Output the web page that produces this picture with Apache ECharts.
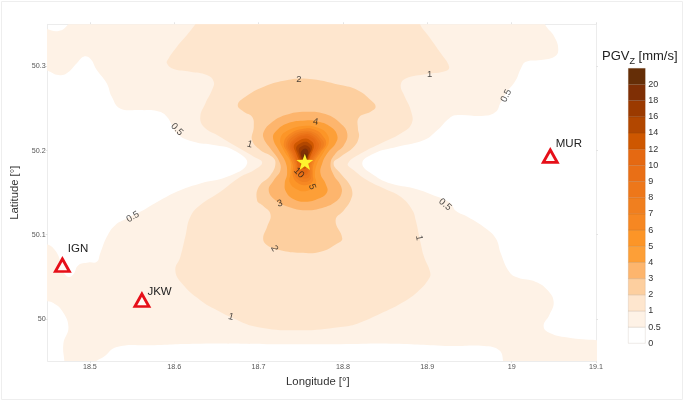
<!DOCTYPE html>
<html>
<head>
<meta charset="utf-8">
<style>html,body{margin:0;padding:0;background:#fff}#main{width:685px;height:402px}</style>
<script src="https://cdn.jsdelivr.net/npm/echarts@6/dist/echarts.min.js"></script>
</head>
<body>
<div id="main"></div>
<script>
// contour outlines [lon, lat] (parts outside the frame get clipped)
var contour05 = [[18.445,50.3452],[18.463,50.342],[18.4745,50.35],[18.4785,50.359],[19.0395,50.359],[19.0395,50.35],[19.0506,50.3353],[19.0553,50.3194],[19.0506,50.3115],[19.0347,50.3075],[19.0169,50.3056],[19.011,50.2976],[19.005,50.2838],[18.9932,50.2679],[18.9864,50.256],[18.9813,50.2461],[18.9674,50.2413],[18.9358,50.2421],[18.9259,50.2382],[18.912,50.2243],[18.8962,50.2124],[18.8645,50.2045],[18.8368,50.1966],[18.8229,50.1847],[18.8368,50.1708],[18.8566,50.1609],[18.8843,50.1549],[18.912,50.145],[18.9278,50.1371],[18.9338,50.1284],[18.9476,50.1213],[18.9694,50.1074],[18.9813,50.0955],[18.9872,50.0777],[18.9971,50.0559],[19.007,50.0491],[19.0288,50.044],[19.0427,50.0341],[19.0498,50.0202],[19.0446,50.0043],[19.0379,49.9924],[19.0427,49.9845],[19.0664,49.9778],[19.102,49.9746],[19.1139,49.9742],[19.1139,49.935],[18.99,49.935],[18.99,49.9488],[18.9853,49.9627],[18.9674,49.9679],[18.9278,49.9679],[18.8566,49.9706],[18.7972,49.9699],[18.7101,49.9699],[18.6309,49.9706],[18.5716,49.9687],[18.532,49.9667],[18.5161,49.9548],[18.5062,49.9488],[18.5003,49.9389],[18.4706,49.9389],[18.4698,49.9488],[18.4686,49.9706],[18.4746,49.9905],[18.4666,50.0103],[18.4567,50.019],[18.45,50.021],[18.4409,50.0222],[18.4409,50.0884],[18.45,50.0884],[18.4587,50.0816],[18.4647,50.0697],[18.4686,50.0559],[18.4746,50.0499],[18.4805,50.0531],[18.4864,50.0638],[18.4983,50.067],[18.5082,50.0678],[18.5122,50.0777],[18.5201,50.0975],[18.53,50.1114],[18.5438,50.1193],[18.5597,50.1272],[18.5834,50.1411],[18.6072,50.1529],[18.6309,50.1609],[18.6626,50.1688],[18.6864,50.1847],[18.6705,50.2005],[18.6468,50.2065],[18.623,50.2104],[18.6032,50.2203],[18.5913,50.2402],[18.5795,50.2469],[18.5597,50.2481],[18.5359,50.2501],[18.526,50.2639],[18.5201,50.2798],[18.5082,50.2957],[18.5003,50.3095],[18.4924,50.3115],[18.4845,50.3036],[18.4726,50.2917],[18.4627,50.2897],[18.45,50.2949],[18.4409,50.2976],[18.4409,50.3452]];
var contour1 = [[18.6309,50.3591],[18.8914,50.3591],[18.8914,50.35],[18.9021,50.3353],[18.916,50.3155],[18.9259,50.2996],[18.9219,50.2945],[18.9001,50.2909],[18.8744,50.2857],[18.8685,50.2778],[18.8724,50.2659],[18.8803,50.2481],[18.8815,50.2322],[18.8685,50.2203],[18.8447,50.2084],[18.8249,50.1985],[18.8059,50.1847],[18.813,50.1767],[18.8289,50.1648],[18.8487,50.1549],[18.8685,50.145],[18.8823,50.1292],[18.8863,50.1173],[18.8922,50.0896],[18.8962,50.0737],[18.9033,50.0559],[18.9021,50.0479],[18.8883,50.0321],[18.8685,50.0182],[18.8447,50.0063],[18.817,49.9944],[18.7972,49.9905],[18.7497,49.9865],[18.6982,49.9905],[18.6666,50.0024],[18.6507,50.0103],[18.6309,50.0222],[18.6092,50.042],[18.6013,50.0579],[18.6072,50.0737],[18.6131,50.0975],[18.6191,50.1213],[18.6309,50.1352],[18.6547,50.151],[18.6784,50.1688],[18.6943,50.1767],[18.7042,50.1859],[18.6943,50.1926],[18.6705,50.2065],[18.6507,50.2184],[18.6349,50.2283],[18.6309,50.2402],[18.6369,50.256],[18.6448,50.2719],[18.6468,50.2818],[18.6388,50.2897],[18.6191,50.2937],[18.5993,50.2968],[18.5913,50.3036],[18.5933,50.3095],[18.6032,50.3234],[18.6151,50.3373],[18.625,50.35]];
var contour2 = [[18.6753,50.254],[18.6844,50.2639],[18.7062,50.2758],[18.7299,50.283],[18.7576,50.2853],[18.7972,50.2778],[18.817,50.2719],[18.8328,50.26],[18.8388,50.252],[18.8328,50.2461],[18.819,50.2394],[18.8178,50.2263],[18.819,50.2164],[18.813,50.2045],[18.7972,50.1926],[18.7889,50.1847],[18.7972,50.1728],[18.8071,50.1609],[18.8111,50.151],[18.8091,50.1411],[18.8012,50.1292],[18.7913,50.1173],[18.7992,50.0955],[18.7932,50.0896],[18.7735,50.0797],[18.7497,50.0785],[18.726,50.0816],[18.7101,50.0876],[18.7054,50.0955],[18.7101,50.1094],[18.7141,50.1244],[18.7042,50.1352],[18.6982,50.1411],[18.7002,50.1569],[18.7141,50.1708],[18.72,50.1847],[18.7161,50.1926],[18.7022,50.2005],[18.6923,50.2124],[18.6943,50.2283],[18.6923,50.2402],[18.6824,50.2461]];
var contour3 = [[18.7061,50.2223],[18.714,50.2322],[18.7318,50.2421],[18.7556,50.2461],[18.7793,50.2433],[18.7972,50.2322],[18.8051,50.2203],[18.8011,50.2064],[18.7912,50.1965],[18.7853,50.1846],[18.7892,50.1708],[18.7972,50.1589],[18.7983,50.149],[18.7912,50.1391],[18.7754,50.1319],[18.7556,50.1291],[18.7358,50.1331],[18.72,50.141],[18.712,50.1529],[18.718,50.1648],[18.7259,50.1767],[18.7239,50.1886],[18.714,50.2025],[18.7061,50.2144]];
var contour4 = [[18.7556,50.2358],[18.7714,50.2342],[18.7853,50.2282],[18.7932,50.2183],[18.7912,50.2084],[18.7813,50.1965],[18.7754,50.1846],[18.7734,50.1727],[18.7793,50.1609],[18.7813,50.1509],[18.7714,50.143],[18.7556,50.1391],[18.7417,50.1422],[18.7326,50.1509],[18.731,50.1609],[18.7338,50.1727],[18.7318,50.1866],[18.7239,50.2005],[18.7172,50.2144],[18.72,50.2223],[18.7338,50.2322]];
var contour5 = [[18.7556,50.2294],[18.7694,50.2274],[18.7801,50.2211],[18.7833,50.2104],[18.7774,50.1985],[18.7694,50.1846],[18.7667,50.1708],[18.7683,50.162],[18.7643,50.1557],[18.7556,50.1517],[18.7457,50.1537],[18.737,50.162],[18.7378,50.1727],[18.7378,50.1866],[18.7299,50.2005],[18.7259,50.2144],[18.7358,50.2243]];
var contour6 = [[18.7556,50.2263],[18.7675,50.2243],[18.7754,50.2183],[18.7801,50.2084],[18.7734,50.1977],[18.7655,50.1846],[18.7643,50.1708],[18.7643,50.1636],[18.7556,50.1589],[18.7457,50.162],[18.7405,50.1708],[18.7405,50.1827],[18.735,50.1965],[18.7299,50.2084],[18.7378,50.2203]];
var contour7 = [[18.7556,50.2235],[18.7667,50.2211],[18.7734,50.2152],[18.7774,50.2072],[18.7714,50.1977],[18.7635,50.1846],[18.7627,50.1716],[18.7615,50.166],[18.7556,50.1628],[18.7477,50.1648],[18.7429,50.1716],[18.7429,50.1827],[18.7378,50.1953],[18.7326,50.2072],[18.7397,50.2183]];
var contour8 = [[18.7556,50.2215],[18.7655,50.2191],[18.7714,50.2136],[18.7742,50.2064],[18.7694,50.1977],[18.7615,50.1846],[18.7607,50.1727],[18.7595,50.1684],[18.7548,50.1668],[18.7496,50.1684],[18.7449,50.1739],[18.7445,50.1834],[18.7397,50.1953],[18.7346,50.2064],[18.7409,50.2163]];
var contour9 = [[18.7556,50.2195],[18.7643,50.2171],[18.7694,50.2116],[18.7714,50.2056],[18.7667,50.1965],[18.7595,50.1846],[18.7588,50.1739],[18.7548,50.17],[18.7496,50.1716],[18.7465,50.1767],[18.7457,50.1846],[18.7413,50.1953],[18.737,50.2056],[18.7429,50.2144]];
var contour10 = [[18.7556,50.2175],[18.7635,50.2152],[18.7675,50.2104],[18.7683,50.2045],[18.7643,50.1965],[18.7584,50.1846],[18.7576,50.1755],[18.7536,50.1727],[18.7485,50.1747],[18.7465,50.1827],[18.7429,50.1953],[18.739,50.2056],[18.7445,50.2132]];
var contour12 = [[18.7556,50.2144],[18.7615,50.212],[18.7655,50.2064],[18.7627,50.1965],[18.7576,50.1846],[18.7556,50.1787],[18.7516,50.1795],[18.7485,50.1866],[18.7445,50.1965],[18.7417,50.2056],[18.7469,50.2112]];
var contour14 = [[18.7556,50.2104],[18.7607,50.208],[18.7635,50.2033],[18.7603,50.1953],[18.7568,50.1846],[18.7536,50.1819],[18.7496,50.1886],[18.7465,50.1965],[18.7445,50.2033],[18.7489,50.208]];
var contour16 = [[18.7556,50.2064],[18.7595,50.2045],[18.7615,50.2005],[18.7588,50.1938],[18.7556,50.1846],[18.7516,50.1886],[18.7485,50.1965],[18.7477,50.2017],[18.7508,50.2049]];
var contour18 = [[18.7556,50.2025],[18.7588,50.1993],[18.758,50.1926],[18.7556,50.1866],[18.7524,50.1898],[18.75,50.1965],[18.7516,50.2005]];
var contour20 = [[18.7556,50.1965],[18.7572,50.1926],[18.7548,50.1886],[18.7528,50.1926]];

// colour scale, bottom to top: first cell is 0-0.5, last is above 20
var scaleLabels = ['0','0.5','1','2','3','4','5','6','7','8','9','10','12','14','16','18','20',''];
var scaleColors = ['#ffffff','#fef2e6','#fee6ce','#fdcf9f','#fdb56d','#fd9f37','#fc9527','#f68722','#f07f1f','#ed771a','#e96f16','#e56912','#ce5700','#b24700','#9b3a00','#7f2f05','#652e07'];
// filled regions, scaleColors[i + 1] goes with contours[i]
var contours = [contour05,contour1,contour2,contour3,contour4,contour5,contour6,contour7,contour8,contour9,contour10,contour12,contour14,contour16,contour18,contour20];

var stationNames = ['IGN','JKW','MUR'];
var stationLon = [18.4674,18.5617,19.0458];
var stationLat = [50.0638,50.0222,50.1934];
var stationLabelDy = [-16,-8.5,-12];
var epicenter = [18.7548,50.1866];

var contourLabelText = ['2','1','0.5','0.5','4','1','10','5','3','2','0.5','1','0.5','1'];
var contourLabelLon = [18.7477,18.9029,18.9936,18.6032,18.7675,18.6895,18.7477,18.7636,18.7252,18.7188,18.551,18.6674,18.9211,18.8902];
var contourLabelLat = [50.2846,50.2909,50.2651,50.2251,50.2342,50.2073,50.1736,50.1569,50.1371,50.0836,50.1213,50.0024,50.1359,50.0963];
var contourLabelRot = [0,0,65,-45,-10,-15,-45,-70,15,-60,30,-15,-40,-80];

var lonTicks = [18.5,18.6,18.7,18.8,18.9,19,19.1];
var latTicks = [50,50.1,50.2,50.3];

var frameColor = '#ececec';
var tickFont = {fontFamily:'Liberation Sans',fontSize:7.2,color:'#555'};
var nameFont = {fontFamily:'Liberation Sans',fontSize:11.3,color:'#333'};

function mapAxis(pos, ticks, lo, hi, extra){
	var ax = {
		type:'value', gridIndex:0, position:pos, min:lo, max:hi, scale:true,
		splitLine:{show:false},
		axisLine:{show:true,onZero:false,lineStyle:{color:frameColor}},
		axisTick:{show:true,length:2,inside:false,customValues:ticks,lineStyle:{color:'#e4e4e4'}},
		axisLabel:{show:false}
	};
	for(var k in extra){ ax[k] = extra[k]; }
	return ax;
}

var option = {
	backgroundColor:'#fff',
	animation:false,
	title:{
		text:'{a|PGV}{b|Z}{a| [mm/s]}',
		left:602, top:46, padding:0,
		textStyle:{fontWeight:'normal',rich:{
			a:{fontFamily:'Liberation Sans',fontWeight:'normal',fontSize:13,color:'#222',lineHeight:20},
			b:{fontFamily:'Liberation Sans',fontWeight:'normal',fontSize:9,color:'#222',lineHeight:20,verticalAlign:'bottom'}
		}}
	},
	graphic:[{type:'rect',silent:true,z:-10,shape:{x:1.5,y:1.5,width:681,height:398},style:{fill:'none',stroke:'#eeeeee',lineWidth:1}}],
	grid:[
		{left:47.7,top:24.3,width:548.3,height:336.7},
		{left:628.3,top:68.3,width:17,height:275}
	],
	xAxis:[
		mapAxis('bottom',lonTicks,18.45,19.1,{
			name:'Longitude [°]',nameLocation:'middle',nameGap:11,nameTextStyle:{fontFamily:'Liberation Sans',fontSize:11.3,color:'#333',padding:[0,8,0,0]},
			axisLabel:{show:true,margin:3,customValues:lonTicks,fontFamily:tickFont.fontFamily,fontSize:tickFont.fontSize,color:tickFont.color}
		}),
		mapAxis('top',lonTicks,18.45,19.1,{}),
		{type:'value',gridIndex:1,min:0,max:1,show:false}
	],
	yAxis:[
		mapAxis('left',latTicks,49.95,50.35,{
			name:'Latitude [°]',nameLocation:'middle',nameGap:22,nameTextStyle:nameFont,
			axisLabel:{show:true,margin:2,customValues:latTicks,fontFamily:tickFont.fontFamily,fontSize:tickFont.fontSize,color:tickFont.color}
		}),
		mapAxis('right',latTicks,49.95,50.35,{}),
		{
			type:'value',gridIndex:1,position:'right',min:0,max:17,interval:1,
			splitLine:{show:false},axisLine:{show:false},axisTick:{show:false},
			axisLabel:{margin:3,fontFamily:'Liberation Sans',fontSize:9,color:'#333',
				formatter:function(v){ return scaleLabels[v]; }}
		}
	],
	series:[
		{
			// filled contour levels, lowest first
			type:'custom',
			xAxisIndex:0,yAxisIndex:0,
			clip:true,
			coordinateSystem:'cartesian2d',
			data:contours.map(function(c,i){ return [i]; }),
			encode:{x:-1,y:-1},
			renderItem:function(params,api){
				var i = params.dataIndex;
				return {
					type:'polygon',
					shape:{points:contours[i].map(function(p){ return api.coord(p); }),smooth:0.45},
					style:{fill:scaleColors[i+1]}
				};
			},
			silent:true,
			z:1
		},
		{
			// colour bar
			type:'custom',
			xAxisIndex:2,yAxisIndex:2,
			coordinateSystem:'cartesian2d',
			data:scaleColors.map(function(c,i){ return [i]; }),
			encode:{x:-1,y:-1},
			renderItem:function(params,api){
				var i = params.dataIndex;
				var a = api.coord([0,i]), b = api.coord([1,i+1]);
				return {
					type:'rect',
					shape:{x:a[0],y:b[1],width:b[0]-a[0],height:a[1]-b[1]},
					style:{fill:scaleColors[i],stroke:'rgba(90,60,30,0.10)',lineWidth:1}
				};
			},
			silent:true,
			z:1
		},
		{
			// labels on the contour lines
			type:'scatter',
			xAxisIndex:0,yAxisIndex:0,
			symbolSize:0,
			silent:true,
			z:3,
			data:contourLabelText.map(function(t,i){
				return {
					value:[contourLabelLon[i],contourLabelLat[i]],
					label:{show:true,position:'inside',formatter:t,rotate:contourLabelRot[i],
						fontFamily:'Liberation Sans',fontSize:9.5,color:'#1a1a1a'}
				};
			})
		},
		{
			type:'scatter',
			xAxisIndex:0,yAxisIndex:0,
			symbol:'triangle',
			symbolSize:[14,12.5],
			silent:true,
			z:4,
			itemStyle:{opacity:1,color:'#fffaf5',borderColor:'#e60f19',borderWidth:2.8},
			data:stationNames.map(function(n,i){
				return {
					value:[stationLon[i],stationLat[i]],
					label:{show:true,position:'right',distance:-3,offset:[0,stationLabelDy[i]],formatter:n,
						fontFamily:'Liberation Sans',fontSize:11.5,color:'#222'}
				};
			})
		},
		{
			type:'scatter',
			xAxisIndex:0,yAxisIndex:0,
			symbol:'path://M0,-10 L2.35,-3.24 L9.51,-3.09 L3.8,1.24 L5.88,8.09 L0,4 L-5.88,8.09 L-3.8,1.24 L-9.51,-3.09 L-2.35,-3.24 Z',
			symbolSize:17,
			symbolKeepAspect:true,
			silent:true,
			z:5,
			itemStyle:{opacity:1,color:'#fff22e'},
			data:[epicenter]
		}
	]
};

var myChart = echarts.init(document.getElementById('main'),null,{renderer:'canvas'});
myChart.setOption(option);
</script>
</body>
</html>
